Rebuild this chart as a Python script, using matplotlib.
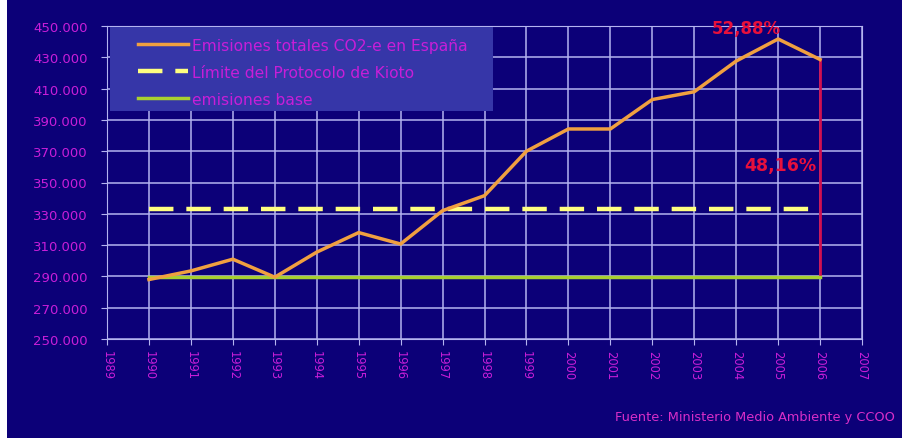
import matplotlib
matplotlib.use("Agg")
import matplotlib.pyplot as plt
from matplotlib.patches import Rectangle
from matplotlib.ticker import FuncFormatter, MultipleLocator

# Data (thousand t CO2-eq)
years = list(range(1990, 2007))
emisiones = [288000, 293500, 301000, 289500, 305500, 318000, 310700, 332000, 341600,
             370000, 384200, 384200, 403000, 408000, 427600, 441700, 428600]
kioto = 333300
base = 289600
yticks = list(range(250000, 450001, 20000))

labels = ["Emisiones totales CO2-e en España", "Límite del Protocolo de Kioto", "emisiones base"]
pct_total = "52,88%"
pct_2006 = "48,16%"
fuente = "Fuente: Ministerio Medio Ambiente y CCOO"

bg = "#0c0078"
grid_c = "#b4b4f0"
txt_c = "#c81ed8"

fig = plt.figure(figsize=(9.03, 4.39), dpi=100, facecolor=bg)
# white strip on the left edge
fig.patches.append(Rectangle((0, 0), 7 / 903, 1, transform=fig.transFigure,
                             facecolor="white", edgecolor="none", zorder=-1))

ax = fig.add_axes([107 / 903, 1 - 340 / 439, 755 / 903, 313 / 439])
ax.set_facecolor(bg)

ax.plot(years, emisiones, color="#f0a040", lw=2.5, label=labels[0], zorder=4)
ax.plot([years[0], years[-1]], [kioto, kioto], color="#ffff80", lw=3.2,
        dashes=(5.5, 2.9), label=labels[1], zorder=3)
ax.plot([years[0], years[-1]], [base, base], color="#a8d030", lw=2.5,
        label=labels[2], zorder=3)
ax.vlines(years[-1], base, emisiones[-1], color="#d01050", lw=2, zorder=2)

ax.text(2004.25, 449000, pct_total, color="#e8103c", fontsize=12, fontweight="bold",
        ha="center", va="center")
ax.text(2005.05, 361200, pct_2006, color="#e8103c", fontsize=12.5, fontweight="bold",
        ha="center", va="center")

ax.set_xlim(1989, 2007)
ax.set_ylim(250000, 450000)
ax.xaxis.set_major_locator(MultipleLocator(1))
ax.set_yticks(yticks)
ax.yaxis.set_major_formatter(FuncFormatter(lambda v, p: f"{v:,.0f}".replace(",", ".")))
ax.grid(True, color=grid_c, lw=1.1)
ax.set_axisbelow(True)
for s in ax.spines.values():
    s.set_color(grid_c)
ax.tick_params(colors=grid_c, labelcolor=txt_c, length=4)
ax.tick_params(axis="y", labelsize=9.5, pad=10)
ax.tick_params(axis="x", labelrotation=-90, pad=4, labelsize=8.3)

# legend box drawn as its own rectangle (wider horizontal padding than legend allows)
ax.add_patch(Rectangle((0.004, 0.728), 0.507, 0.269, transform=ax.transAxes,
                       facecolor="#3636a8", edgecolor="none", zorder=5))
leg = ax.legend(loc="upper left", bbox_to_anchor=(0.041, 0.963), borderaxespad=0,
                frameon=False, fontsize=11.2, handlelength=3.2, labelspacing=0.78,
                borderpad=0, handletextpad=0.25)
leg.set_zorder(6)
for t in leg.get_texts():
    t.set_color(txt_c)

fig.text(895 / 903, 1 - 418 / 439, fuente, color="#d82ec8", fontsize=9.3,
         ha="right", va="center")

fig.savefig("out.png", dpi=100, facecolor=bg)
